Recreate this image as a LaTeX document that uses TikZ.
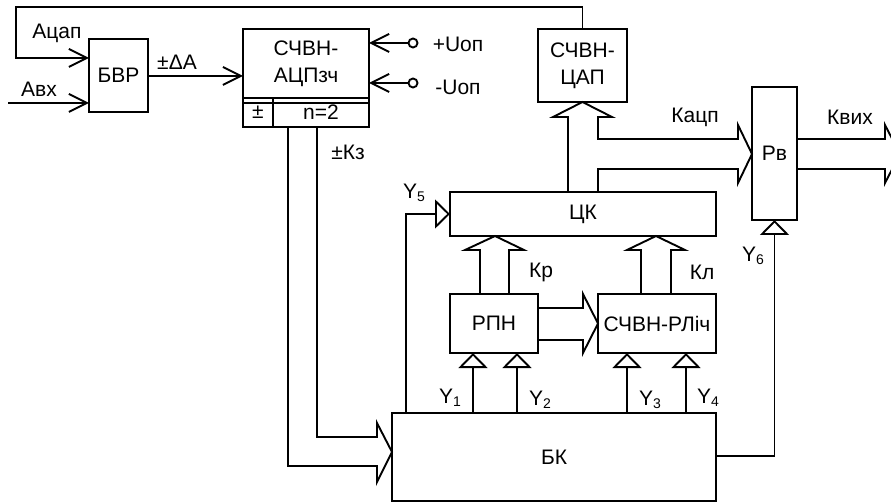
\documentclass[tikz,border=0pt]{standalone}
\usepackage{fontspec}
\setmainfont{Liberation Sans}
\usepackage{tikz}
\usetikzlibrary{arrows.meta}

\newcommand{\ysub}[1]{Y\raisebox{-3pt}{\fontsize{14}{14}\selectfont #1}}

\begin{document}
\begin{tikzpicture}[
    x=1pt, y=-1pt,
    line width=1.9pt,
    font=\fontsize{21}{27}\selectfont,
    block/.style={
        rectangle,
        draw,
        inner sep=0pt,
        outer sep=0pt,
        align=center
    },
    lbl/.style={inner sep=0pt},
    port/.style={circle, draw, fill=white, minimum size=9pt, inner sep=0pt},
    sig/.style={-{Straight Barb[length=18pt, width=18pt]}},
    ctl/.style={-{Triangle[open, length=15pt, width=29pt]}},
    bus/.style={line join=miter}
]

\useasboundingbox (0,0) rectangle (891,502);
\clip (0,0) rectangle (891,502);

% Blocks
\node[block, minimum width=59pt, minimum height=73pt] (bvr) at (118.5,75.5) {БВР};
\node[block, minimum width=126pt, minimum height=69pt] (adc) at (306,63.5) {СЧВН-\\АЦПзч};
\node[block, minimum width=30pt, minimum height=29pt] (sgn) at (258,112.5) {\raisebox{-2pt}{±}};
\node[block, minimum width=96pt, minimum height=29pt] (nbit) at (321,112.5) {\raisebox{-2pt}{n=2}};
\draw ([yshift=-5pt]sgn.north west) -- ([yshift=-5pt]nbit.north east);
\node[block, minimum width=89pt, minimum height=73pt] (dac) at (582.5,65.5) {СЧВН-\\ЦАП};
\node[block, minimum width=45pt, minimum height=133pt] (rv) at (774.5,153.5) {Рв};
\node[block, minimum width=266pt, minimum height=44pt] (ck) at (583,214) {ЦК};
\node[block, minimum width=88pt, minimum height=59pt] (rpn) at (494,323.5) {РПН};
\node[block, minimum width=118pt, minimum height=59pt] (rlich) at (657,323.5) {СЧВН-РЛіч};
\node[block, minimum width=324pt, minimum height=88pt] (bk) at (554,457) {БК};

% Reference voltages
\node[port] (upos) at (413,43) {};
\node[port] (uneg) at (413,83) {};

\coordinate (avx) at (8,103);
\coordinate (loop) at (16,7);

% Labels
\node[lbl] (lacap) at (57,33) {Ацап};
\node[lbl] (lavx) at (39,89) {Авх};
\node[lbl] (lda) at (177,62) {±ΔА};
\node[lbl] (lup) at (458,44) {+Uоп};
\node[lbl] (lun) at (458,87) {-Uоп};
\node[lbl] (lkz) at (348,152) {±Кз};
\node[lbl] (ly5) at (414,193) {\ysub{5}};
\node[lbl] (lkr) at (541,272) {Кр};
\node[lbl] (lkl) at (702,272) {Кл};
\node[lbl] (ly1) at (450,398) {\ysub{1}};
\node[lbl] (ly2) at (540,400) {\ysub{2}};
\node[lbl] (ly3) at (650,400) {\ysub{3}};
\node[lbl] (ly4) at (708,398) {\ysub{4}};
\node[lbl] (ly6) at (753,256) {\ysub{6}};
\node[lbl] (lkacp) at (695,117) {Кацп};
\node[lbl] (lkout) at (850,117) {Квих};

% Inputs
\draw[sig] (dac.north) |- (loop) |- (bvr.west |- 0,58);
\draw[sig] (avx) -- (avx -| bvr.west);
\draw[sig] (bvr.east |- 0,76) -- (adc.west |- 0,76);
\draw[sig] (upos) -- (upos -| adc.east);
\draw[sig] (uneg) -- (uneg -| adc.east);

% Code into BK
\draw[bus] (nbit.south -| 288,0) |- (377,466) -- (377,482) -- (bk.west |- 0,452)
    -- (377,423) -- (377,437) -| (nbit.south -| 317,0);

% Control signals
\draw[ctl] (bk.north -| 406,0) |- (ck.west);
\draw[ctl] (bk.north -| 473,0) -- (rpn.south -| 473,0);
\draw[ctl] (bk.north -| 517,0) -- (rpn.south -| 517,0);
\draw[ctl] (bk.north -| 627,0) -- (rlich.south -| 627,0);
\draw[ctl] (bk.north -| 686,0) -- (rlich.south -| 686,0);
\draw[ctl] (bk.east |- 0,456) -| (rv.south);

% Buses
\draw[bus] (rpn.north -| 480,0) -- (480,250) -- (465,250) -- (ck.south -| 495,0)
    -- (524,250) -- (509,250) -- (rpn.north -| 509,0);
\draw[bus] (rlich.north -| 641,0) -- (641,250) -- (627,250) -- (ck.south -| 656,0)
    -- (685,250) -- (671,250) -- (rlich.north -| 671,0);
\draw[bus] (rpn.east |- 0,308) -- (583,308) -- (583,294) -- (rlich.west)
    -- (583,353) -- (583,340) -- (rpn.east |- 0,340);
\draw[bus] (ck.north -| 568,0) -- (568,117) -- (553,117) -- (dac.south) -- (612,117)
    -- (598,117) -- (598,139) -- (738,139) -- (738,125) -- (rv.west |- 0,154)
    -- (738,183) -- (738,169) -- (598,169) -- (ck.north -| 598,0);
\draw[bus] (rv.east |- 0,139) -- (885,139) -- (885,125) -- (900,154)
    -- (885,183) -- (885,169) -- (rv.east |- 0,169);

\end{tikzpicture}
\end{document}
